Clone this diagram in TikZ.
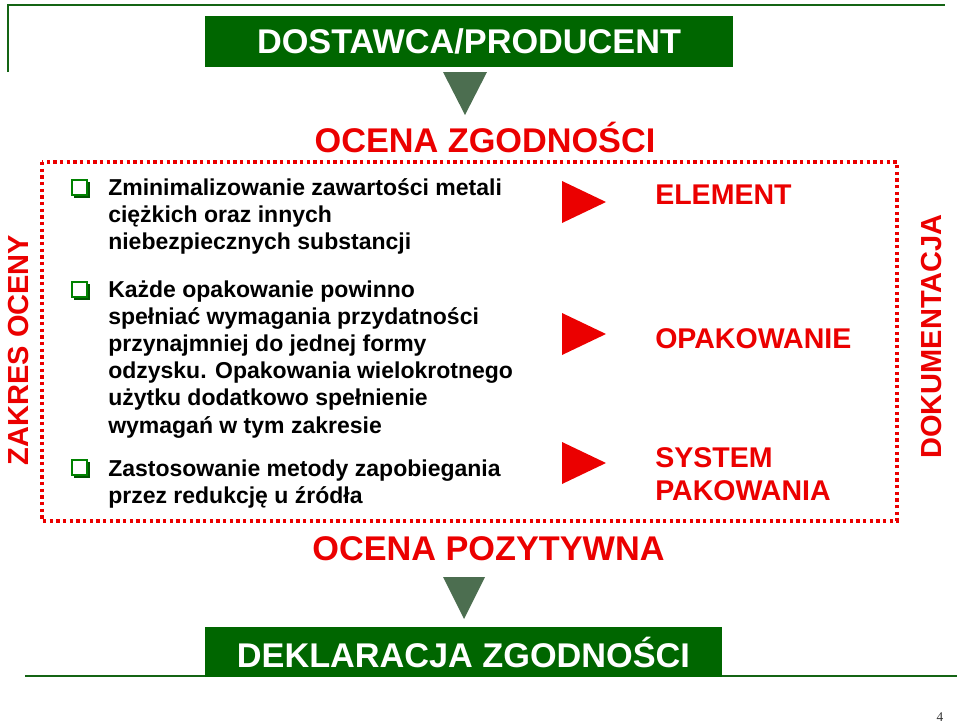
\documentclass[tikz,border=0pt]{standalone}
\usepackage{fontspec}
\setmainfont{Liberation Sans}
\newfontfamily\pagefont{Liberation Serif}
\usetikzlibrary{shadows}
\definecolor{boxgreen}{RGB}{0,102,0}
\definecolor{linegreen}{RGB}{20,100,20}
\definecolor{arrowgreen}{RGB}{76,110,80}
\definecolor{ocenared}{RGB}{235,0,0}
\definecolor{bulletgreen}{RGB}{0,130,0}
\definecolor{bulletdark}{RGB}{0,85,0}
\begin{document}
\begin{tikzpicture}[x=0.75pt,y=-0.75pt,
	greenbox/.style={fill=boxgreen,text=white,inner sep=0,
		font=\fontsize{25.7}{30}\selectfont\bfseries},
	redhead/.style={text=ocenared,inner sep=0,
		font=\fontsize{25.7}{30}\selectfont\bfseries},
	redlabel/.style={text=ocenared,inner sep=0,align=left,
		font=\fontsize{21.4}{24.75}\selectfont\bfseries},
	sidelabel/.style={text=ocenared,inner sep=0,rotate=90,
		font=\fontsize{21.75}{26}\selectfont\bfseries},
	bodytext/.style={inner sep=0,align=left,
		font=\fontsize{17.25}{20.4}\selectfont\bfseries},
	checkbox/.style={draw=bulletgreen,line width=1.2pt,fill=white,
		minimum size=11.5pt,inner sep=0,
		drop shadow={shadow xshift=1.8pt,shadow yshift=-1.8pt,fill=bulletdark,opacity=1}},
	greenline/.style={draw=linegreen,line width=1.9pt},
	frameline/.style={draw=ocenared,line width=2.6pt,dash pattern=on 2.6pt off 2.4pt}]
\useasboundingbox (0,0) rectangle (960,728);

% frame lines
\draw[greenline] (8,72) -- (8,5) -- (945,5);
\draw[greenline] (25,676) -- (957,676);

% boxes
\node[greenbox,minimum width=396pt,minimum height=38.25pt] (producer) at (469,41.5) {DOSTAWCA/PRODUCENT};
\node[greenbox,minimum width=387.75pt,minimum height=37.5pt] (declaration) at (463.5,652) {DEKLARACJA ZGODNOŚCI};

% down arrows
\fill[arrowgreen] (443,72) -- (487,72) -- (465,115) -- cycle;
\fill[arrowgreen] (443,577) -- (485,577) -- (464,619) -- cycle;

\node[redhead,anchor=base] (assessment) at (485,152) {OCENA ZGODNOŚCI};
\node[redhead,anchor=base] (positive) at (488.5,560) {OCENA POZYTYWNA};

% scope frame
\draw[frameline] (42,162) rectangle (897,521);
\node[sidelabel] (scope) at (18.5,350) {ZAKRES OCENY};
\node[sidelabel] (docs) at (931.5,336.5) {DOKUMENTACJA};

% requirements (base = last line)
\node[checkbox] (b1) at (79.5,187.5) {};
\node[checkbox] (b2) at (79.5,289.5) {};
\node[checkbox] (b3) at (79.5,467.5) {};
\node[bodytext,anchor=base west] (req1) at (108,249.4) {Zminimalizowanie zawartości metali\\ciężkich oraz innych\\niebezpiecznych substancji};
\node[bodytext,anchor=base west] (req2) at (108,433) {Każde opakowanie powinno\\spełniać wymagania przydatności\\przynajmniej do jednej formy\\odzysku. Opakowania wielokrotnego\\użytku dodatkowo spełnienie\\wymagań w tym zakresie};
\node[bodytext,anchor=base west] (req3) at (108,503.2) {Zastosowanie metody zapobiegania\\przez redukcję u źródła};

% levels
\foreach \y in {202,334,463}
	\fill[ocenared] (562,\y-21) -- (606,\y) -- (562,\y+21) -- cycle;
\node[redlabel,anchor=base west] (element) at (655,204) {ELEMENT};
\node[redlabel,anchor=base west] (packaging) at (655,348) {OPAKOWANIE};
\node[redlabel,anchor=base west] (system) at (655,500) {SYSTEM\\PAKOWANIA};

\node[font=\pagefont\fontsize{10}{12}\selectfont,text=black!80] (page) at (940,717) {4};
\end{tikzpicture}
\end{document}
